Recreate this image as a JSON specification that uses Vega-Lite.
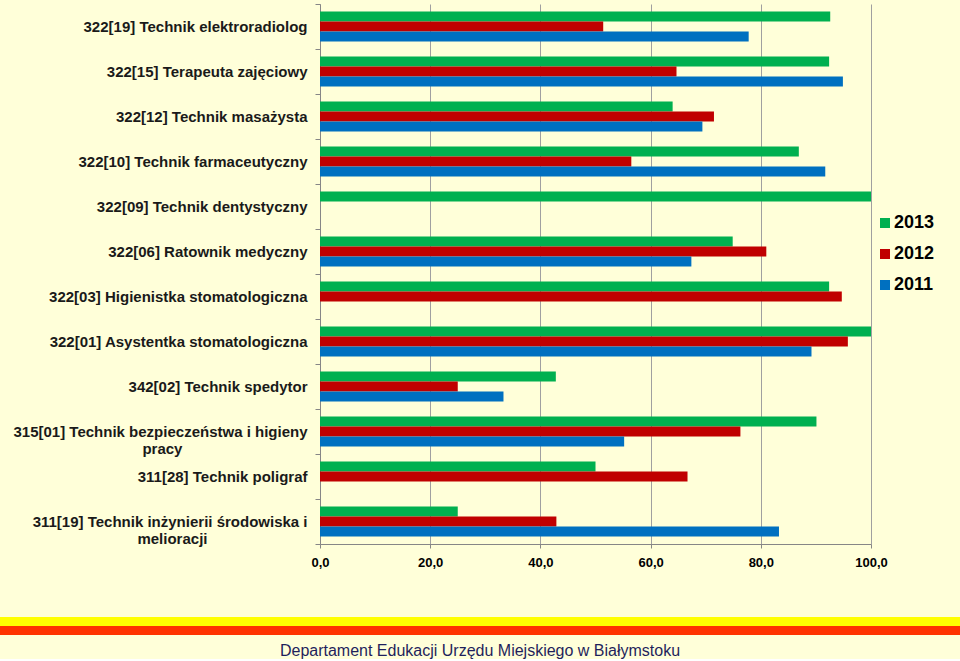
{
  "$schema": "https://vega.github.io/schema/vega-lite/v6.json",
  "background": "#FFFFD9",
  "padding": {"left": 0, "top": -3, "right": 0, "bottom": 0},
  "config": {"view": {"stroke": null}, "font": "Liberation Sans"},
  "spacing": 48,
  "title": {
    "text": "Departament Edukacji Urzędu Miejskiego w Białymstoku",
    "orient": "bottom",
    "anchor": "middle",
    "fontSize": 16,
    "fontWeight": "normal",
    "color": "#1F1F5C",
    "font": "Liberation Sans",
    "offset": 8
  },
  "resolve": {"scale": {"color": "independent", "x": "independent", "y": "independent"}},
  "vconcat": [
    {
      "width": 960,
      "height": 540,
      "data": {
        "values": [
          {"kategoria": "322[19] Technik elektroradiolog", "rok": "2013", "wartosc": 92.6},
          {"kategoria": "322[19] Technik elektroradiolog", "rok": "2012", "wartosc": 51.4},
          {"kategoria": "322[19] Technik elektroradiolog", "rok": "2011", "wartosc": 77.8},
          {"kategoria": "322[15] Terapeuta zajęciowy", "rok": "2013", "wartosc": 92.4},
          {"kategoria": "322[15] Terapeuta zajęciowy", "rok": "2012", "wartosc": 64.7},
          {"kategoria": "322[15] Terapeuta zajęciowy", "rok": "2011", "wartosc": 94.9},
          {"kategoria": "322[12] Technik masażysta", "rok": "2013", "wartosc": 64.0},
          {"kategoria": "322[12] Technik masażysta", "rok": "2012", "wartosc": 71.5},
          {"kategoria": "322[12] Technik masażysta", "rok": "2011", "wartosc": 69.4},
          {"kategoria": "322[10] Technik farmaceutyczny", "rok": "2013", "wartosc": 86.9},
          {"kategoria": "322[10] Technik farmaceutyczny", "rok": "2012", "wartosc": 56.5},
          {"kategoria": "322[10] Technik farmaceutyczny", "rok": "2011", "wartosc": 91.7},
          {"kategoria": "322[09] Technik dentystyczny", "rok": "2013", "wartosc": 100.0},
          {"kategoria": "322[06] Ratownik medyczny", "rok": "2013", "wartosc": 74.9},
          {"kategoria": "322[06] Ratownik medyczny", "rok": "2012", "wartosc": 81.0},
          {"kategoria": "322[06] Ratownik medyczny", "rok": "2011", "wartosc": 67.4},
          {"kategoria": "322[03] Higienistka stomatologiczna", "rok": "2013", "wartosc": 92.4},
          {"kategoria": "322[03] Higienistka stomatologiczna", "rok": "2012", "wartosc": 94.7},
          {"kategoria": "322[01] Asystentka stomatologiczna", "rok": "2013", "wartosc": 100.0},
          {"kategoria": "322[01] Asystentka stomatologiczna", "rok": "2012", "wartosc": 95.8},
          {"kategoria": "322[01] Asystentka stomatologiczna", "rok": "2011", "wartosc": 89.2},
          {"kategoria": "342[02] Technik spedytor", "rok": "2013", "wartosc": 42.8},
          {"kategoria": "342[02] Technik spedytor", "rok": "2012", "wartosc": 25.0},
          {"kategoria": "342[02] Technik spedytor", "rok": "2011", "wartosc": 33.3},
          {"kategoria": "315[01] Technik bezpieczeństwa i higieny pracy", "rok": "2013", "wartosc": 90.1},
          {"kategoria": "315[01] Technik bezpieczeństwa i higieny pracy", "rok": "2012", "wartosc": 76.3},
          {"kategoria": "315[01] Technik bezpieczeństwa i higieny pracy", "rok": "2011", "wartosc": 55.2},
          {"kategoria": "311[28] Technik poligraf", "rok": "2013", "wartosc": 50.0},
          {"kategoria": "311[28] Technik poligraf", "rok": "2012", "wartosc": 66.7},
          {"kategoria": "311[19] Technik inżynierii środowiska i melioracji", "rok": "2013", "wartosc": 25.0},
          {"kategoria": "311[19] Technik inżynierii środowiska i melioracji", "rok": "2012", "wartosc": 42.9},
          {"kategoria": "311[19] Technik inżynierii środowiska i melioracji", "rok": "2011", "wartosc": 83.3}
        ]
      },
      "mark": {"type": "bar"},
      "encoding": {
        "y": {
          "field": "kategoria",
          "type": "nominal",
          "sort": [
            "322[19] Technik elektroradiolog",
            "322[15] Terapeuta zajęciowy",
            "322[12] Technik masażysta",
            "322[10] Technik farmaceutyczny",
            "322[09] Technik dentystyczny",
            "322[06] Ratownik medyczny",
            "322[03] Higienistka stomatologiczna",
            "322[01] Asystentka stomatologiczna",
            "342[02] Technik spedytor",
            "315[01] Technik bezpieczeństwa i higieny pracy",
            "311[28] Technik poligraf",
            "311[19] Technik inżynierii środowiska i melioracji"
          ],
          "scale": {"paddingInner": 0, "paddingOuter": 0},
          "axis": {
            "title": null,
            "offset": -320,
            "tickBand": "extent",
            "domainColor": "#868686",
            "tickColor": "#868686",
            "tickSize": 5,
            "labelFontSize": 15,
            "labelFontWeight": "bold",
            "labelColor": "#1a1a1a",
            "labelPadding": 8,
            "labelLimit": 400,
            "labelLineHeight": 17,
            "labelExpr": "datum.value == '315[01] Technik bezpieczeństwa i higieny pracy' ? ['315[01] Technik bezpieczeństwa i higieny', 'pracy\u00a0\u00a0\u00a0\u00a0\u00a0\u00a0\u00a0\u00a0\u00a0\u00a0\u00a0\u00a0\u00a0\u00a0\u00a0\u00a0\u00a0\u00a0\u00a0\u00a0\u00a0\u00a0\u00a0\u00a0\u00a0\u00a0\u00a0\u00a0\u00a0\u00a0\u200b'] : datum.value == '311[19] Technik inżynierii środowiska i melioracji' ? ['311[19] Technik inżynierii środowiska i', 'melioracji\u00a0\u00a0\u00a0\u00a0\u00a0\u00a0\u00a0\u00a0\u00a0\u00a0\u00a0\u00a0\u00a0\u00a0\u00a0\u00a0\u00a0\u00a0\u00a0\u00a0\u00a0\u00a0\u00a0\u00a0\u200b'] : datum.value"
          }
        },
        "yOffset": {
          "field": "rok",
          "type": "nominal",
          "scale": {"domain": ["2013", "2012", "2011"], "paddingInner": 0, "paddingOuter": 0.75}
        },
        "x": {
          "field": "wartosc",
          "type": "quantitative",
          "scale": {"domain": [0, 100], "range": [320, 871]},
          "axis": {
            "values": [0, 20, 40, 60, 80, 100],
            "grid": true,
            "gridColor": "#A0A0A0",
            "domainColor": "#868686",
            "tickColor": "#868686",
            "tickSize": 4,
            "labelFlush": false,
            "labelExpr": "replace(format(datum.value, '.1f'), '.', ',')",
            "labelFontWeight": "bold",
            "labelFontSize": 13,
            "labelColor": "#000000",
            "labelPadding": 8,
            "title": null,
            "minExtent": 25,
            "maxExtent": 25
          }
        },
        "color": {
          "field": "rok",
          "type": "nominal",
          "scale": {"domain": ["2013", "2012", "2011"], "range": ["#00B050", "#C00000", "#0070C0"]},
          "legend": {
            "title": null,
            "orient": "none",
            "legendX": 876,
            "legendY": 210,
            "symbolType": "square",
            "symbolSize": 100,
            "symbolStrokeWidth": 0,
            "labelFontSize": 18,
            "labelFontWeight": "bold",
            "labelColor": "#000000",
            "labelOffset": 0,
            "rowPadding": 13
          }
        }
      }
    },
    {
      "width": 960,
      "height": 18,
      "data": {"values": [{"pas": "zolty"}, {"pas": "czerwony"}]},
      "mark": "rect",
      "encoding": {
        "y": {"field": "pas", "type": "nominal", "sort": ["zolty", "czerwony"], "axis": null, "scale": {"paddingInner": 0, "paddingOuter": 0}},
        "x": {"datum": 0, "type": "quantitative", "scale": {"domain": [0, 1]}, "axis": null},
        "x2": {"datum": 1},
        "color": {"field": "pas", "type": "nominal", "scale": {"domain": ["zolty", "czerwony"], "range": ["#FFFF00", "#FF3300"]}, "legend": null}
      }
    }
  ]
}
